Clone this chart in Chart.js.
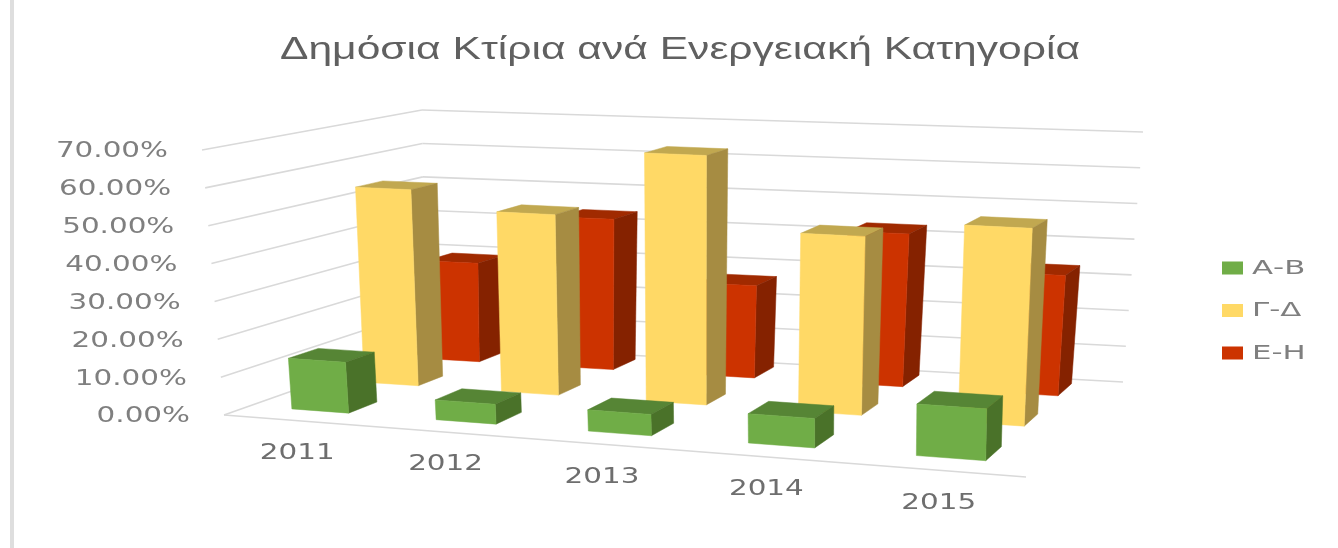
<!DOCTYPE html>
<html lang="el">
<head>
    <meta charset="UTF-8">
    <title>Δημόσια Κτίρια ανά Ενεργειακή Κατηγορία</title>
    <script src="https://cdn.jsdelivr.net/npm/chart.js@4.4.0/dist/chart.umd.min.js"></script>
    <style>
        html, body { margin: 0; padding: 0; background: #fff; overflow: hidden; }
        #box { position: relative; width: 1338px; height: 548px; }
        #edge { position: absolute; left: 10px; top: 0; width: 4px; height: 548px; background: #dedede; }
        canvas { filter: blur(0.5px); }
    </style>
</head>
<body>
<div id="box">
    <canvas id="barChart" width="1338" height="548"></canvas>
    <div id="edge"></div>
</div>
<script>
    const chartTitle = 'Δημόσια Κτίρια ανά Ενεργειακή Κατηγορία';
    const years = ['2011', '2012', '2013', '2014', '2015'];
    const seriesAB = [13.5, 5.2, 5.5, 7.5, 13];
    const seriesGD = [54.5, 49.5, 67.5, 47.7, 52];
    const seriesEH = [28.5, 43, 26, 42.5, 33];
    const seriesNames = ['Α-Β', 'Γ-Δ', 'Ε-Η'];

    // corners of the 3d box on screen: [floor, top]
    const corners = {
        frontLeft: [[224, 415], [202, 150]],
        frontRight: [[1026, 477], [1031, 192]],
        backLeft: [[425, 344], [422, 110]],
        backRight: [[1123, 382], [1143, 132]]
    };
    // depth of each row, same order as the datasets
    const rows = [[0.13, 0.28], [0.5, 0.63], [0.825, 0.955]];
    const faces = [
        { front: '#70AD47', side: '#4A7229', top: '#568535' },
        { front: '#FFD966', side: '#A68C42', top: '#C1A850' },
        { front: '#CC3300', side: '#852200', top: '#A02A00' }
    ];
    const FONT = '"DejaVu Sans"';

    function mix(a, b, t) { return [a[0] + (b[0] - a[0]) * t, a[1] + (b[1] - a[1]) * t]; }

    function project(u, v, h) {
        const floor = mix(mix(corners.frontLeft[0], corners.frontRight[0], u), mix(corners.backLeft[0], corners.backRight[0], u), v);
        const top = mix(mix(corners.frontLeft[1], corners.frontRight[1], u), mix(corners.backLeft[1], corners.backRight[1], u), v);
        return mix(floor, top, h);
    }

    // perspective: categories get wider towards the viewer on the right
    function warp(u) { return u + 0.125 * (u * u - u); }

    function poly(ctx, pts, color) {
        ctx.fillStyle = color;
        ctx.strokeStyle = color;
        ctx.lineWidth = 0.5;
        ctx.beginPath();
        pts.forEach((p, i) => i ? ctx.lineTo(p[0], p[1]) : ctx.moveTo(p[0], p[1]));
        ctx.closePath();
        ctx.fill();
        ctx.stroke();
    }

    function line(ctx, a, b) {
        ctx.beginPath();
        ctx.moveTo(a[0], a[1]);
        ctx.lineTo(b[0], b[1]);
        ctx.stroke();
    }

    // the text in the picture is stretched sideways
    function wideText(ctx, text, x, y, sx, align) {
        ctx.save();
        ctx.translate(x, y);
        ctx.scale(sx, 1);
        ctx.textAlign = align;
        ctx.textBaseline = 'middle';
        ctx.fillText(text, 0, 0);
        ctx.restore();
    }

    const box3d = {
        id: 'box3d',
        beforeDatasetsDraw(chart) {
            const ctx = chart.ctx;
            const area = chart.chartArea;
            const xs = chart.scales.x;
            const ys = chart.scales.y;
            const toU = px => warp((px - area.left) / area.width);
            const toH = py => (area.bottom - py) / area.height;

            ctx.save();
            // walls
            ctx.strokeStyle = '#D9D9D9';
            ctx.lineWidth = 1.6;
            ys.ticks.forEach(t => {
                const h = toH(ys.getPixelForValue(t.value));
                line(ctx, project(0, 0, h), project(0, 1, h));
                line(ctx, project(0, 1, h), project(1, 1, h));
            });
            line(ctx, project(0, 0, 0), project(1, 0, 0));

            // back row first so the front rows cover it
            for (let d = chart.data.datasets.length - 1; d >= 0; d--) {
                const [v0, v1] = rows[d];
                const c = faces[d];
                chart.getDatasetMeta(d).data.forEach(bar => {
                    const p = bar.getProps(['x', 'y', 'base', 'width'], true);
                    const u0 = toU(p.x - p.width / 2);
                    const u1 = toU(p.x + p.width / 2);
                    const h = toH(p.y);
                    poly(ctx, [project(u0, v0, h), project(u1, v0, h), project(u1, v1, h), project(u0, v1, h)], c.top);
                    poly(ctx, [project(u1, v0, 0), project(u1, v1, 0), project(u1, v1, h), project(u1, v0, h)], c.side);
                    poly(ctx, [project(u0, v0, 0), project(u1, v0, 0), project(u1, v0, h), project(u0, v0, h)], c.front);
                });
            }

            // title
            ctx.fillStyle = '#606060';
            ctx.font = '31px "Liberation Sans"';
            const titleScale = 800 / ctx.measureText(chartTitle).width;
            wideText(ctx, chartTitle, 680, 50, titleScale, 'center');

            // y tick labels
            ctx.fillStyle = '#7F7F7F';
            ctx.font = '21px ' + FONT;
            ys.ticks.forEach(t => {
                const pos = project(0, 0, toH(ys.getPixelForValue(t.value)));
                wideText(ctx, t.label, pos[0] - 34, pos[1] + 2, 1.4, 'right');
            });

            // x tick labels
            ctx.fillStyle = '#6E6E6E';
            years.forEach((y, i) => {
                const pos = project(toU(xs.getPixelForValue(i)), 0, 0);
                wideText(ctx, y, pos[0] + 2, pos[1] + 33, 1.4, 'center');
            });

            // legend
            ctx.font = '19px ' + FONT;
            chart.data.datasets.forEach((ds, i) => {
                const y = 268 + i * 42.5;
                ctx.fillStyle = ds.backgroundColor;
                ctx.fillRect(1222, y - 6.5, 21, 13);
                ctx.fillStyle = '#7F7F7F';
                wideText(ctx, ds.label, 1252, y + 1, 1.62, 'left');
            });
            ctx.restore();
            return false;
        }
    };

    new Chart(document.getElementById('barChart').getContext('2d'), {
        type: 'bar',
        data: {
            labels: years,
            datasets: [
                { label: seriesNames[0], data: seriesAB, backgroundColor: faces[0].front },
                { label: seriesNames[1], data: seriesGD, backgroundColor: faces[1].front },
                { label: seriesNames[2], data: seriesEH, backgroundColor: faces[2].front }
            ]
        },
        plugins: [box3d],
        options: {
            responsive: false,
            animation: false,
            grouped: false,
            barPercentage: 0.4,
            categoryPercentage: 1,
            layout: { padding: { left: 20, right: 20, top: 80, bottom: 20 } },
            scales: {
                x: { grid: { display: false }, border: { display: false }, ticks: { display: false } },
                y: {
                    min: 0,
                    max: 70,
                    grid: { display: false },
                    border: { display: false },
                    ticks: { display: false, stepSize: 10, callback: v => v.toFixed(2) + '%' }
                }
            },
            plugins: {
                legend: { display: false },
                tooltip: { enabled: false }
            }
        }
    });
</script>
</body>
</html>
